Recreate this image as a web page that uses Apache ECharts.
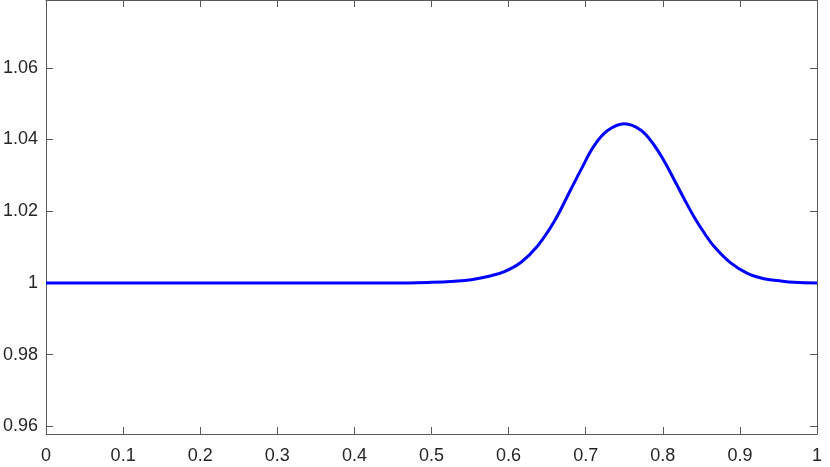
<!DOCTYPE html>
<html>
<head>
<meta charset="utf-8">
<script src="https://cdn.jsdelivr.net/npm/echarts@6/dist/echarts.min.js"></script>
<style>
  html, body { margin: 0; padding: 0; background: #fff; }
  #chart { width: 830px; height: 467px; }
</style>
</head>
<body>
<div id="chart"></div>
<script>
// points
var xs = [0, 0.25, 0.45, 0.5, 0.53, 0.5515, 0.5731, 0.5946, 0.6162, 0.6378, 0.6593,
          0.6805, 0.6939, 0.711, 0.7284, 0.75, 0.7716, 0.7888, 0.8017, 0.8147, 0.8276,
          0.8406, 0.8536, 0.8665, 0.888, 0.9097, 0.9312, 0.955, 0.97, 1];
var ys = [1, 1, 1.0000, 1.0002, 1.0005, 1.0009, 1.0018, 1.0032, 1.0058, 1.0104, 1.0172,
          1.0260, 1.0316, 1.0383, 1.0425, 1.0444, 1.0426, 1.0384, 1.0340, 1.0288, 1.0235,
          1.0184, 1.0140, 1.0102, 1.0056, 1.0027, 1.0012, 1.0005, 1.0002, 1.0000];
var yTicks = [0.96, 0.98, 1, 1.02, 1.04, 1.06];

var axisColor = '#595959';
var textColor = '#262626';
var font = '"Liberation Sans", Arial, sans-serif';

var chart = echarts.init(document.getElementById('chart'));

var points = xs.map(function (x, i) { return [x, ys[i]]; });

function xAx(pos, labels) {
    return {
        type: 'value', position: pos, min: 0, max: 1, interval: 0.1,
        axisLine: { show: true, onZero: false, lineStyle: { color: axisColor, width: 1 } },
        axisTick: { show: true, inside: true, length: 7, lineStyle: { color: axisColor } },
        axisLabel: { show: labels, color: textColor, fontSize: 18, fontFamily: font, margin: 13 },
        splitLine: { show: false }
    };
}
function yAx(pos, labels) {
    return {
        type: 'value', position: pos, min: 0.9579, max: 1.0789,
        axisLine: { show: true, onZero: false, lineStyle: { color: axisColor, width: 1 } },
        axisTick: { show: true, inside: true, length: 7, customValues: yTicks, lineStyle: { color: axisColor } },
        axisLabel: { show: labels, color: textColor, fontSize: 18, fontFamily: font, margin: 8,
                     customValues: yTicks },
        splitLine: { show: false }
    };
}

chart.setOption({
    animation: false,
    backgroundColor: '#fff',
    grid: { left: 45, right: 13, top: 0, bottom: 33, containLabel: false },
    xAxis: [xAx('bottom', true), xAx('top', false)],
    yAxis: [yAx('left', true), yAx('right', false)],
    series: [{
        type: 'line',
        data: points,
        smooth: 0.4,
        showSymbol: false,
        lineStyle: { color: '#0000ff', width: 3 },
        xAxisIndex: 0,
        yAxisIndex: 0
    }]
});
</script>
</body>
</html>
